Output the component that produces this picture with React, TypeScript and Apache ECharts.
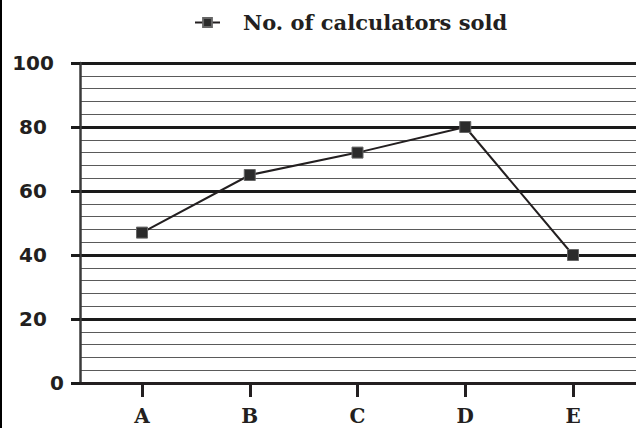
import React, { useEffect, useRef } from "react";
import * as echarts from "echarts";

const categories = ["A", "B", "C", "D", "E"];
const sold = [47, 65, 72, 80, 40];
const yTicks = [0, 20, 40, 60, 80, 100];
const seriesName = "No. of calculators sold";

export default function App() {
  const ref = useRef<HTMLDivElement>(null);
  useEffect(() => {
    document.body.style.margin = "0";
    const chart = echarts.init(ref.current!, null, { renderer: "svg" });
    const xIdx = categories.map((_, i) => i);
    chart.setOption({
      animation: false,
      backgroundColor: "#ffffff",
      legend: {
        show: true,
        left: 194,
        top: 12,
        padding: 0,
        itemWidth: 25,
        itemHeight: 11,
        data: [seriesName],
        textStyle: {
          fontFamily: "DejaVu Serif",
          fontWeight: "bold",
          fontSize: 21,
          color: "#231f20",
          padding: [0, 0, 0, 18],
        },
      },
      graphic: [
        { type: "rect", left: 0, top: 0, shape: { width: 2, height: 428 }, style: { fill: "#000" } },
      ],
      grid: { left: 80, right: 0, top: 63, bottom: 45, containLabel: false },
      xAxis: {
        type: "value",
        min: -62 / 107.75,
        max: -62 / 107.75 + 556 / 107.75,
        splitLine: { show: false },
        axisLine: { show: true, onZero: false, lineStyle: { color: "#231f20", width: 3 } },
        axisTick: { show: true, customValues: xIdx, length: 14, lineStyle: { color: "#231f20", width: 3 } },
        axisLabel: {
          show: true,
          customValues: xIdx,
          formatter: (v: number) => categories[Math.round(v)] ?? "",
          margin: 23,
          lineHeight: 20,
          fontFamily: "DejaVu Serif",
          fontWeight: "bold",
          fontSize: 20,
          color: "#231f20",
        },
      },
      yAxis: {
        type: "value",
        min: yTicks[0],
        max: yTicks[yTicks.length - 1],
        interval: 20,
        axisLine: { show: true, onZero: false, lineStyle: { color: "#3a3a3a", width: 2.5 } },
        axisTick: { show: true, length: 9, lineStyle: { color: "#1a1a1a", width: 3 } },
        splitLine: { show: true, lineStyle: { color: "#1a1a1a", width: 3 } },
        minorTick: { show: false, splitNumber: 5 },
        minorSplitLine: { show: true, lineStyle: { color: "#5a5a5a", width: 1.2 } },
        axisLabel: {
          margin: 47,
          align: "center",
          formatter: (v: number) => (v === 0 ? "{z|0}" : "{n|" + v + "}"),
          rich: {
            n: { fontFamily: "DejaVu Sans", fontWeight: "bold", fontSize: 20, color: "#231f20" },
            z: {
              fontFamily: "DejaVu Sans",
              fontWeight: "bold",
              fontSize: 20,
              color: "#231f20",
              padding: [0, 0, 0, 48],
            },
          },
        },
      },
      series: [
        {
          name: seriesName,
          type: "line",
          data: sold.map((v, i) => [xIdx[i], v]),
          symbol: "rect",
          symbolSize: 11,
          lineStyle: { color: "#231f20", width: 2 },
          itemStyle: { color: "#2b2b2b", borderColor: "#666", borderWidth: 1 },
        },
      ],
    });
    return () => chart.dispose();
  }, []);
  return <div ref={ref} style={{ width: 636, height: 428 }} />;
}
